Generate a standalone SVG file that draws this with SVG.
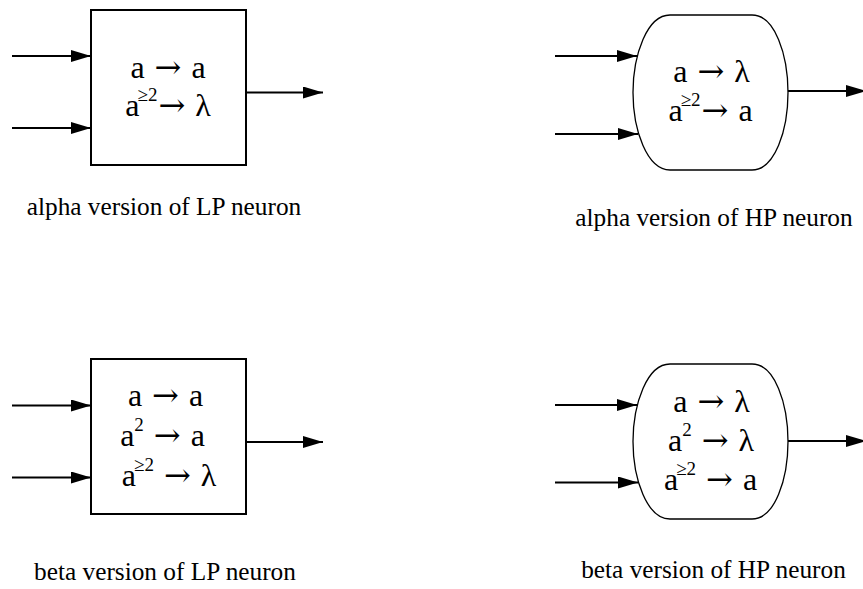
<svg xmlns="http://www.w3.org/2000/svg" width="863" height="589" viewBox="0 0 863 589">
  <style>
    .box { fill: #fff; stroke: #000; stroke-width: 2; }
    .hp { fill: #fff; stroke: #000; stroke-width: 1.3; }
    .wire { fill: none; stroke: #000; stroke-width: 2; marker-end: url(#ah); }
    .rule { font-family: "Liberation Serif", "Times New Roman", serif; font-size: 32px; fill: #000; text-anchor: middle; }
    .to { font-family: "DejaVu Serif", serif; }
    .sup { font-size: 19px; }
    .label { font-family: "Liberation Serif", "Times New Roman", serif; font-size: 25.3px; fill: #000; text-anchor: middle; }
  </style>
  <defs>
    <marker id="ah" markerWidth="20" markerHeight="12" refX="20" refY="6" orient="auto" markerUnits="userSpaceOnUse">
      <path d="M0,0 L20,6 L0,12 Z" fill="#000"/>
    </marker>
  </defs>

  <!-- connectors: two inputs and one output per neuron -->
  <g id="connectors">
    <line class="wire" x1="12" y1="56" x2="91" y2="56"/>
    <line class="wire" x1="12" y1="128" x2="91" y2="128"/>
    <line class="wire" x1="246" y1="92.5" x2="323" y2="92.5"/>

    <line class="wire" x1="555" y1="56" x2="637" y2="56"/>
    <line class="wire" x1="555" y1="134" x2="638" y2="134"/>
    <line class="wire" x1="788" y1="91" x2="866" y2="91"/>

    <line class="wire" x1="12" y1="405.5" x2="91" y2="405.5"/>
    <line class="wire" x1="12" y1="477.5" x2="91" y2="477.5"/>
    <line class="wire" x1="246" y1="442" x2="323" y2="442"/>

    <line class="wire" x1="555" y1="405" x2="637" y2="405"/>
    <line class="wire" x1="555" y1="482.5" x2="638" y2="482.5"/>
    <line class="wire" x1="788" y1="441" x2="866" y2="441"/>
  </g>

  <!-- alpha LP neuron -->
  <g id="alpha-lp">
    <rect class="box" x="91" y="10" width="155" height="155"/>
    <text class="rule" x="168" y="78">a <tspan class="to" dx="2">→</tspan><tspan dx="2"> a</tspan></text>
    <text class="rule" x="168" y="116">a<tspan class="sup" dx="-2" dy="-15">≥2</tspan><tspan class="to" dx="1" dy="15">→</tspan><tspan dx="2"> λ</tspan></text>
    <text class="label" x="164" y="215">alpha version of LP neuron</text>
  </g>

  <!-- alpha HP neuron -->
  <g id="alpha-hp">
    <path class="hp" d="M670,15 L752,15 C775,15 788,55 788,92.5 C788,130 775,170 752,170 L670,170 C647,170 633,130 633,92.5 C633,55 647,15 670,15 Z"/>
    <text class="rule" x="711.5" y="82">a <tspan class="to" dx="2">→</tspan><tspan dx="2"> λ</tspan></text>
    <text class="rule" x="710.5" y="121">a<tspan class="sup" dx="-2" dy="-15">≥2</tspan><tspan class="to" dx="1" dy="15">→</tspan><tspan dx="2"> a</tspan></text>
    <text class="label" x="714" y="226">alpha version of HP neuron</text>
  </g>

  <!-- beta LP neuron -->
  <g id="beta-lp">
    <rect class="box" x="91" y="359" width="155" height="155"/>
    <text class="rule" x="165.5" y="406">a <tspan class="to" dx="2">→</tspan><tspan dx="2"> a</tspan></text>
    <text class="rule" x="162.5" y="446">a<tspan class="sup" dy="-15">2</tspan><tspan dy="15"> </tspan><tspan class="to" dx="2">→</tspan><tspan dx="2"> a</tspan></text>
    <text class="rule" x="169" y="485.5">a<tspan class="sup" dx="-2" dy="-15">≥2</tspan><tspan dy="15"> </tspan><tspan class="to" dx="2">→</tspan><tspan dx="2"> λ</tspan></text>
    <text class="label" x="165" y="580">beta version of LP neuron</text>
  </g>

  <!-- beta HP neuron -->
  <g id="beta-hp">
    <path class="hp" d="M670,364 L752,364 C775,364 788,404 788,441.5 C788,479 775,519 752,519 L670,519 C647,519 633,479 633,441.5 C633,404 647,364 670,364 Z"/>
    <text class="rule" x="711.5" y="412">a <tspan class="to" dx="2">→</tspan><tspan dx="2"> λ</tspan></text>
    <text class="rule" x="711" y="451">a<tspan class="sup" dy="-15">2</tspan><tspan dy="15"> </tspan><tspan class="to" dx="2">→</tspan><tspan dx="2"> λ</tspan></text>
    <text class="rule" x="710.5" y="490">a<tspan class="sup" dx="-2" dy="-15">≥2</tspan><tspan dy="15"> </tspan><tspan class="to" dx="2">→</tspan><tspan dx="2"> a</tspan></text>
    <text class="label" x="713.5" y="578">beta version of HP neuron</text>
  </g>
</svg>
